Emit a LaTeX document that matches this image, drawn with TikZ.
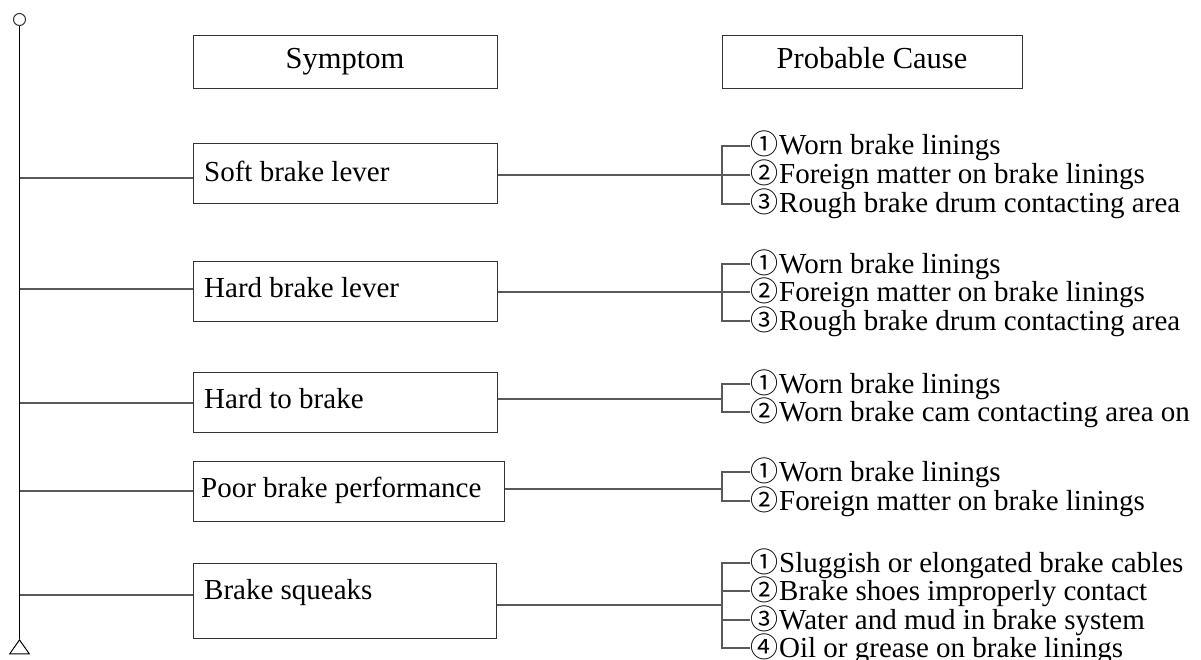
\documentclass[tikz,border=0pt]{standalone}
\usetikzlibrary{shapes.geometric}
\usepackage{fontspec}
\setmainfont{Liberation Serif}
\newfontfamily\circfont{Noto Sans CJK SC}
\newcommand{\cnum}[1]{\makebox[29pt][l]{\fontsize{28}{28}\circfont #1}}
\begin{document}
\begin{tikzpicture}[x=1pt,y=-1pt,
  boxstyle/.style={draw=black!80,line width=1.2pt,inner sep=0pt,anchor=north west},
  symtext/.style={inner sep=0pt,anchor=base west,font=\fontsize{29}{29}\selectfont},
  headtext/.style={inner sep=0pt,anchor=base,font=\fontsize{30.5}{30.5}\selectfont},
  causetext/.style={inner sep=0pt,anchor=base west,yshift=-9pt,font=\fontsize{29}{29}\selectfont},
  wire/.style={draw=black!65,line width=1.3pt},
]
\useasboundingbox (0,0) rectangle (1201,660);

% spine
\node[circle,draw=black!80,line width=1pt,minimum size=12pt,inner sep=0pt] (top) at (19.5,19.5) {};
\node[draw=black,line width=1pt,isosceles triangle,isosceles triangle apex angle=70,shape border rotate=90,minimum height=14pt,minimum width=19pt,inner sep=0pt,anchor=apex] (bot) at (19.5,639) {};
\draw[line width=1.2pt] (top.south) -- (bot.apex);

% headers
\node[boxstyle,minimum width=304pt,minimum height=53pt] (hs) at (193,35) {};
\node[headtext] (hst) at (345,69) {Symptom};
\node[boxstyle,minimum width=300pt,minimum height=53pt] (hc) at (722,35) {};
\node[headtext] (hct) at (872,69) {Probable Cause};

% symptom boxes
\node[boxstyle,minimum width=304pt,minimum height=60pt] (s1) at (193,143) {};
\node[symtext] (t1) at (204,182) {Soft brake lever};
\node[boxstyle,minimum width=304pt,minimum height=60pt] (s2) at (193,261) {};
\node[symtext] (t2) at (204,297) {Hard brake lever};
\node[boxstyle,minimum width=304pt,minimum height=60pt] (s3) at (193,372) {};
\node[symtext] (t3) at (204,408) {Hard to brake};
\node[boxstyle,minimum width=311pt,minimum height=60pt] (s4) at (193,461) {};
\node[symtext] (t4) at (201,497) {Poor brake performance};
\node[boxstyle,minimum width=303pt,minimum height=75pt] (s5) at (193,563) {};
\node[symtext] (t5) at (204,599) {Brake squeaks};

% left connectors
\coordinate (l1) at (19.5,178);
\coordinate (l2) at (19.5,289);
\coordinate (l3) at (19.5,403);
\coordinate (l4) at (19.5,491);
\coordinate (l5) at (19.5,595);
\foreach \i in {1,...,5} {\draw[wire] (l\i) -- (l\i -| s\i.west);}

% bracket coordinates
\coordinate (b1) at (722,175);
\coordinate (b2) at (722,292);
\coordinate (b3) at (722,399);
\coordinate (b4) at (722,489);
\coordinate (b5) at (722,605);
\foreach \i in {1,...,5} {\draw[wire] (b\i -| s\i.east) -- (b\i);}

% cause rows
\coordinate (c11) at (750,146);
\coordinate (c12) at (750,175);
\coordinate (c13) at (750,204);
\coordinate (c21) at (750,264);
\coordinate (c22) at (750,292);
\coordinate (c23) at (750,321);
\coordinate (c31) at (750,384);
\coordinate (c32) at (750,412);
\coordinate (c41) at (750,472);
\coordinate (c42) at (750,501);
\coordinate (c51) at (750,563);
\coordinate (c52) at (750,591);
\coordinate (c53) at (750,620);
\coordinate (c54) at (750,648);

% brackets
\draw[wire] (c11) -- (c11 -| b1) -- (c13 -| b1) -- (c13); \draw[wire] (c12 -| b1) -- (c12);
\draw[wire] (c21) -- (c21 -| b2) -- (c23 -| b2) -- (c23); \draw[wire] (c22 -| b2) -- (c22);
\draw[wire] (c31) -- (c31 -| b3) -- (c32 -| b3) -- (c32);
\draw[wire] (c41) -- (c41 -| b4) -- (c42 -| b4) -- (c42);
\draw[wire] (c51) -- (c51 -| b5) -- (c54 -| b5) -- (c54); \draw[wire] (c52 -| b5) -- (c52); \draw[wire] (c53 -| b5) -- (c53);

% cause texts
\node[causetext] (r11) at (c11) {\cnum{①}Worn brake linings};
\node[causetext] (r12) at (c12) {\cnum{②}Foreign matter on brake linings};
\node[causetext] (r13) at (c13) {\cnum{③}Rough brake drum contacting area};
\node[causetext] (r21) at (c21) {\cnum{①}Worn brake linings};
\node[causetext] (r22) at (c22) {\cnum{②}Foreign matter on brake linings};
\node[causetext] (r23) at (c23) {\cnum{③}Rough brake drum contacting area};
\node[causetext] (r31) at (c31) {\cnum{①}Worn brake linings};
\node[causetext] (r32) at (c32) {\cnum{②}Worn brake cam contacting area on};
\node[causetext] (r41) at (c41) {\cnum{①}Worn brake linings};
\node[causetext] (r42) at (c42) {\cnum{②}Foreign matter on brake linings};
\node[causetext] (r51) at (c51) {\cnum{①}Sluggish or elongated brake cables};
\node[causetext] (r52) at (c52) {\cnum{②}Brake shoes improperly contact};
\node[causetext] (r53) at (c53) {\cnum{③}Water and mud in brake system};
\node[causetext] (r54) at (c54) {\cnum{④}Oil or grease on brake linings};
\end{tikzpicture}
\end{document}
